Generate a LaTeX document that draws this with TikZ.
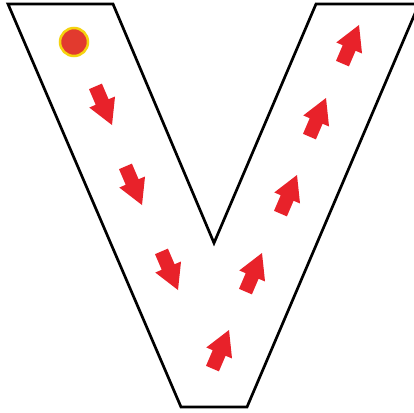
\documentclass[tikz,border=0pt]{standalone}
\definecolor{arrowred}{HTML}{E8222A}
\definecolor{dotred}{HTML}{E23A2E}
\definecolor{dotyellow}{HTML}{F5D30F}
\tikzset{
  blockarrow/.pic={\fill[arrowred] (0,0) -- (-25,14) -- (-25,7) -- (-42,7) -- (-42,-7) -- (-25,-7) -- (-25,-14) -- cycle;},
  outline/.style={draw=black, line width=2.7pt, line join=miter}
}
\begin{document}
\begin{tikzpicture}[x=1pt,y=-1pt]
\clip (0,0) rectangle (414,412);
\fill[white] (0,0) rectangle (414,412);
\draw[outline] (8,4) -- (113,4) -- (214,243) -- (316,4) -- (419,4) -- (247,407) -- (181,407) -- cycle;
\filldraw[fill=dotred, draw=dotyellow, line width=2.5pt] (74,42) circle (14pt);
% left arm, going down
\pic[rotate=-66.8] at (112,125) {blockarrow};
\pic[rotate=-66.8] at (142,205) {blockarrow};
\pic[rotate=-66.8] at (178,290) {blockarrow};
% right arm, going up
\pic[rotate=66.8] at (229,330) {blockarrow};
\pic[rotate=66.8] at (262,253) {blockarrow};
\pic[rotate=66.8] at (297,175) {blockarrow};
\pic[rotate=66.8] at (326,98) {blockarrow};
\pic[rotate=66.8] at (359,25) {blockarrow};
\end{tikzpicture}
\end{document}
